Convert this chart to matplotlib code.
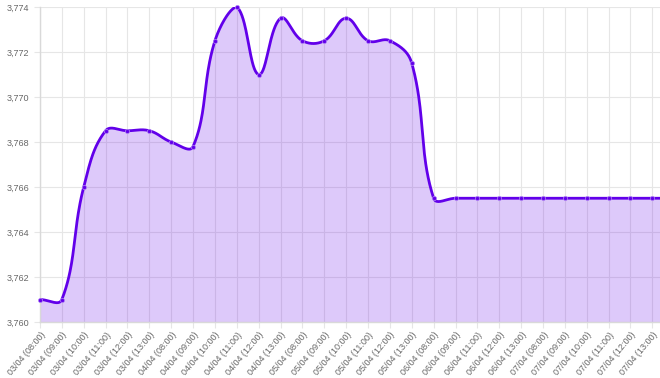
import numpy as np
import matplotlib
matplotlib.use("Agg")
import matplotlib.pyplot as plt
from matplotlib.ticker import FuncFormatter, MultipleLocator

labels = ["03/04 (08:00)", "03/04 (09:00)", "03/04 (10:00)", "03/04 (11:00)", "03/04 (12:00)", "03/04 (13:00)",
          "04/04 (08:00)", "04/04 (09:00)", "04/04 (10:00)", "04/04 (11:00)", "04/04 (12:00)", "04/04 (13:00)",
          "05/04 (08:00)", "05/04 (09:00)", "05/04 (10:00)", "05/04 (11:00)", "05/04 (12:00)", "05/04 (13:00)",
          "06/04 (08:00)", "06/04 (09:00)", "06/04 (11:00)", "06/04 (12:00)", "06/04 (13:00)",
          "07/04 (08:00)", "07/04 (09:00)", "07/04 (10:00)", "07/04 (11:00)", "07/04 (12:00)", "07/04 (13:00)"]

# last value continues past the visible right edge
values = [3761.0, 3761.0, 3766.0, 3768.5, 3768.5, 3768.5,
          3768.0, 3767.8, 3772.5, 3774.0, 3771.0, 3773.5,
          3772.5, 3772.5, 3773.5, 3772.5, 3772.5, 3771.5,
          3765.5, 3765.5, 3765.5, 3765.5, 3765.5,
          3765.5, 3765.5, 3765.5, 3765.5, 3765.5, 3765.5,
          3765.5]

line_color = "#6200ea"
grid_color = "#e6e6e6"
text_color = "#666666"

W, H = 660, 378
fig = plt.figure(figsize=(W / 100, H / 100), dpi=100)
L, R, T, B = 40, 660, 7, 322
ax = fig.add_axes([L / W, 1 - B / H, (R - L) / W, (B - T) / H])

ymin, ymax = 3760, 3774
xmax = 28.35
n = len(values)
x = np.arange(n)
y = np.array(values)

# Chart.js-like tension spline computed in pixel space
sx = (R - L) / xmax
sy = (B - T) / (ymax - ymin)
px = x * sx
py = (y - ymin) * sy
tension = 0.4
cps = []
for i in range(n):
    prev = i - 1 if i > 0 else i
    nxt = i + 1 if i < n - 1 else i
    d01 = np.hypot(px[i] - px[prev], py[i] - py[prev])
    d12 = np.hypot(px[nxt] - px[i], py[nxt] - py[i])
    tot = d01 + d12
    s01 = d01 / tot if tot else 0
    s12 = d12 / tot if tot else 0
    fa = tension * s01
    fb = tension * s12
    dx = px[nxt] - px[prev]
    dy = py[nxt] - py[prev]
    cps.append(((px[i] - fa * dx, py[i] - fa * dy), (px[i] + fb * dx, py[i] + fb * dy)))

cx, cy = [], []
t = np.linspace(0, 1, 40)
for i in range(n - 1):
    p0 = np.array([px[i], py[i]])
    p1 = np.array(cps[i][1])
    p2 = np.array(cps[i + 1][0])
    p3 = np.array([px[i + 1], py[i + 1]])
    p1[1] = np.clip(p1[1], 0, B - T)
    p2[1] = np.clip(p2[1], 0, B - T)
    pts = ((1 - t) ** 3)[:, None] * p0 + (3 * (1 - t) ** 2 * t)[:, None] * p1 \
        + (3 * (1 - t) * t ** 2)[:, None] * p2 + (t ** 3)[:, None] * p3
    cx.extend(pts[:, 0] / sx)
    cy.extend(pts[:, 1] / sy + ymin)
cx = np.array(cx)
cy = np.array(cy)

ax.fill_between(cx, cy, ymin, color=line_color, alpha=0.21, lw=0, zorder=1)
ax.plot(cx, cy, color=line_color, lw=2, zorder=3, solid_capstyle="round")
ax.scatter(x[:len(labels)], y[:len(labels)], s=9, color=line_color, edgecolors="#b48af5",
           linewidths=0.5, zorder=4, clip_on=False)

ax.set_xlim(0, xmax)
ax.set_ylim(ymin, ymax)
ax.yaxis.set_major_locator(MultipleLocator(2))
ax.yaxis.set_major_formatter(FuncFormatter(lambda v, p: f"{v:,.0f}"))
ax.set_xticks(np.arange(len(labels)))
ax.set_xticklabels(labels, rotation=50, ha="right", rotation_mode="anchor")

ax.grid(True, color=grid_color, lw=0.8, zorder=0)
ax.set_axisbelow(True)
for s in ["top", "right"]:
    ax.spines[s].set_visible(False)
for s in ["left", "bottom"]:
    ax.spines[s].set_color("#d9d9d9")
    ax.spines[s].set_linewidth(1)
ax.tick_params(axis="both", colors=grid_color, labelcolor=text_color, labelsize=6.5, length=4, width=0.8)
ax.tick_params(axis="x", pad=2)
for lab in ax.get_xticklabels() + ax.get_yticklabels():
    lab.set_fontfamily("Liberation Sans")

fig.savefig("out.png", dpi=100)
